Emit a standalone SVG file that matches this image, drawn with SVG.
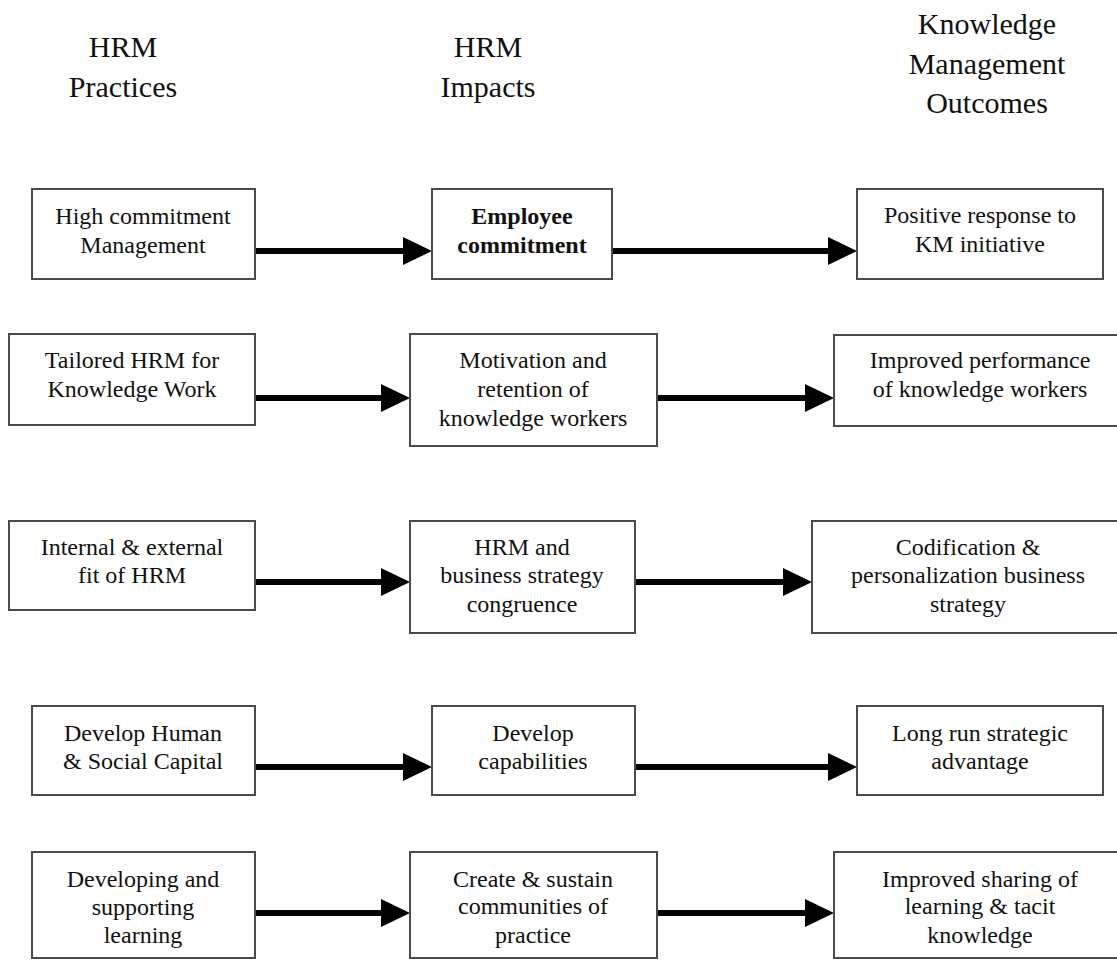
<svg xmlns="http://www.w3.org/2000/svg" width="1117" height="961" viewBox="0 0 1117 961">
  <style>
    .box { fill: #ffffff; stroke: #4a4a4a; stroke-width: 2; }
    .hdr { font-family: "Liberation Serif", "Times New Roman", serif; font-size: 30px; fill: #111; text-anchor: middle; }
    .lbl { font-family: "Liberation Serif", "Times New Roman", serif; font-size: 24px; fill: #111; text-anchor: middle; }
    .bold { font-weight: bold; }
    .conn { stroke: #000; stroke-width: 6; fill: none; marker-end: url(#head); }
  </style>
  <defs>
    <marker id="head" markerUnits="userSpaceOnUse" viewBox="0 0 29 28" refX="1" refY="14" markerWidth="29" markerHeight="28" orient="auto">
      <path d="M0,0 L29,14 L0,28 Z" fill="#000"/>
    </marker>
  </defs>
  <rect width="1117" height="961" fill="#ffffff"/>

  <!-- column headings -->
  <g id="heading-practices">
    <text class="hdr" x="123" y="57">HRM</text>
    <text class="hdr" x="123" y="97">Practices</text>
  </g>
  <g id="heading-impacts">
    <text class="hdr" x="488" y="57">HRM</text>
    <text class="hdr" x="488" y="97">Impacts</text>
  </g>
  <g id="heading-outcomes">
    <text class="hdr" x="987" y="34">Knowledge</text>
    <text class="hdr" x="987" y="74">Management</text>
    <text class="hdr" x="987" y="113">Outcomes</text>
  </g>

  <!-- connectors -->
  <g id="connectors">
    <line class="conn" x1="255" y1="251" x2="404" y2="251"/>
    <line class="conn" x1="612" y1="251" x2="829" y2="251"/>
    <line class="conn" x1="255" y1="398" x2="382" y2="398"/>
    <line class="conn" x1="657" y1="398" x2="806" y2="398"/>
    <line class="conn" x1="255" y1="582" x2="382" y2="582"/>
    <line class="conn" x1="635" y1="582" x2="784" y2="582"/>
    <line class="conn" x1="255" y1="767" x2="404" y2="767"/>
    <line class="conn" x1="635" y1="767" x2="829" y2="767"/>
    <line class="conn" x1="255" y1="913" x2="382" y2="913"/>
    <line class="conn" x1="657" y1="913" x2="806" y2="913"/>
  </g>

  <!-- row 1 -->
  <g id="high-commitment">
    <rect class="box" x="32" y="189" width="223" height="90"/>
    <text class="lbl" x="143" y="224">High commitment</text>
    <text class="lbl" x="143" y="253">Management</text>
  </g>
  <g id="employee-commitment">
    <rect class="box" x="432" y="189" width="180" height="90"/>
    <text class="lbl bold" x="522" y="224">Employee</text>
    <text class="lbl bold" x="522" y="253">commitment</text>
  </g>
  <g id="positive-response">
    <rect class="box" x="857" y="189" width="246" height="90"/>
    <text class="lbl" x="980" y="223">Positive response to</text>
    <text class="lbl" x="980" y="252">KM initiative</text>
  </g>

  <!-- row 2 -->
  <g id="tailored-hrm">
    <rect class="box" x="9" y="334" width="246" height="91"/>
    <text class="lbl" x="132" y="368">Tailored HRM for</text>
    <text class="lbl" x="132" y="397">Knowledge Work</text>
  </g>
  <g id="motivation-retention">
    <rect class="box" x="410" y="334" width="247" height="112"/>
    <text class="lbl" x="533" y="368">Motivation and</text>
    <text class="lbl" x="533" y="397">retention of</text>
    <text class="lbl" x="533" y="426">knowledge workers</text>
  </g>
  <g id="improved-performance">
    <rect class="box" x="834" y="335" width="292" height="91"/>
    <text class="lbl" x="980" y="368">Improved performance</text>
    <text class="lbl" x="980" y="397">of knowledge workers</text>
  </g>

  <!-- row 3 -->
  <g id="internal-external-fit">
    <rect class="box" x="9" y="521" width="246" height="89"/>
    <text class="lbl" x="132" y="555">Internal &amp; external</text>
    <text class="lbl" x="132" y="583">fit of HRM</text>
  </g>
  <g id="strategy-congruence">
    <rect class="box" x="410" y="521" width="225" height="112"/>
    <text class="lbl" x="522" y="555">HRM and</text>
    <text class="lbl" x="522" y="583">business strategy</text>
    <text class="lbl" x="522" y="612">congruence</text>
  </g>
  <g id="codification-personalization">
    <rect class="box" x="812" y="521" width="312" height="112"/>
    <text class="lbl" x="968" y="555">Codification &amp;</text>
    <text class="lbl" x="968" y="583">personalization business</text>
    <text class="lbl" x="968" y="612">strategy</text>
  </g>

  <!-- row 4 -->
  <g id="human-social-capital">
    <rect class="box" x="32" y="706" width="223" height="89"/>
    <text class="lbl" x="143" y="741">Develop Human</text>
    <text class="lbl" x="143" y="769">&amp; Social Capital</text>
  </g>
  <g id="develop-capabilities">
    <rect class="box" x="432" y="706" width="203" height="89"/>
    <text class="lbl" x="533" y="741">Develop</text>
    <text class="lbl" x="533" y="769">capabilities</text>
  </g>
  <g id="strategic-advantage">
    <rect class="box" x="857" y="706" width="246" height="89"/>
    <text class="lbl" x="980" y="741">Long run strategic</text>
    <text class="lbl" x="980" y="769">advantage</text>
  </g>

  <!-- row 5 -->
  <g id="supporting-learning">
    <rect class="box" x="32" y="852" width="223" height="106"/>
    <text class="lbl" x="143" y="887">Developing and</text>
    <text class="lbl" x="143" y="915">supporting</text>
    <text class="lbl" x="143" y="943">learning</text>
  </g>
  <g id="communities-of-practice">
    <rect class="box" x="410" y="852" width="247" height="106"/>
    <text class="lbl" x="533" y="887">Create &amp; sustain</text>
    <text class="lbl" x="533" y="914">communities of</text>
    <text class="lbl" x="533" y="943">practice</text>
  </g>
  <g id="improved-sharing">
    <rect class="box" x="834" y="852" width="292" height="106"/>
    <text class="lbl" x="980" y="887">Improved sharing of</text>
    <text class="lbl" x="980" y="914">learning &amp; tacit</text>
    <text class="lbl" x="980" y="943">knowledge</text>
  </g>
</svg>
